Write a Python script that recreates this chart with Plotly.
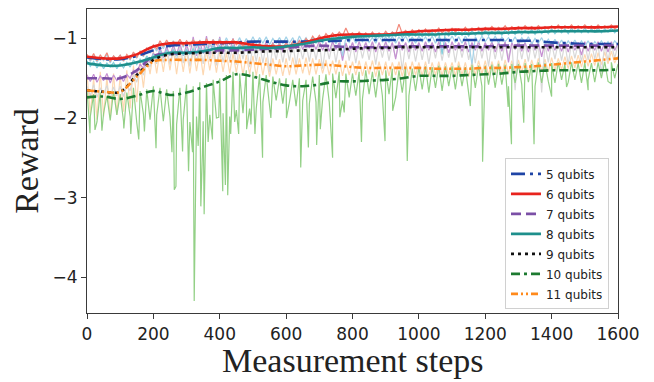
import plotly.graph_objects as go

# ---------------- data ----------------
smooth_steps = list(range(0, 1601, 50))
raw_steps = list(range(0, 1601, 10))

labels = ["5 qubits", "6 qubits", "7 qubits", "8 qubits", "9 qubits", "10 qubits", "11 qubits"]

smooth_5 = [-1.24, -1.26, -1.26, -1.22, -1.15, -1.09, -1.08, -1.07, -1.06, -1.05, -1.04, -1.04, -1.04,
            -1.04, -1.03, -1.03, -1.02, -1.02, -1.02, -1.02, -1.02, -1.02, -1.02, -1.02, -1.02, -1.02,
            -1.03, -1.03, -1.05, -1.06, -1.07, -1.07, -1.07]
smooth_6 = [-1.23, -1.25, -1.25, -1.20, -1.10, -1.06, -1.06, -1.05, -1.05, -1.05, -1.08, -1.10, -1.10,
            -1.06, -1.00, -0.96, -0.95, -0.95, -0.95, -0.93, -0.91, -0.90, -0.89, -0.89, -0.88, -0.88,
            -0.87, -0.87, -0.86, -0.86, -0.86, -0.86, -0.85]
smooth_7 = [-1.50, -1.50, -1.50, -1.40, -1.22, -1.19, -1.18, -1.16, -1.15, -1.15, -1.14, -1.13, -1.12,
            -1.10, -1.09, -1.10, -1.11, -1.11, -1.11, -1.10, -1.10, -1.10, -1.10, -1.10, -1.10, -1.09,
            -1.09, -1.09, -1.09, -1.09, -1.09, -1.09, -1.09]
smooth_8 = [-1.31, -1.34, -1.34, -1.30, -1.24, -1.18, -1.18, -1.16, -1.12, -1.12, -1.11, -1.12, -1.10,
            -1.07, -1.03, -1.00, -0.98, -0.97, -0.96, -0.95, -0.95, -0.95, -0.94, -0.94, -0.93, -0.93,
            -0.92, -0.92, -0.91, -0.91, -0.91, -0.91, -0.90]
smooth_9 = [-1.65, -1.67, -1.67, -1.46, -1.27, -1.20, -1.19, -1.18, -1.18, -1.18, -1.17, -1.16, -1.16,
            -1.15, -1.15, -1.14, -1.13, -1.12, -1.12, -1.11, -1.11, -1.11, -1.11, -1.11, -1.11, -1.11,
            -1.11, -1.11, -1.11, -1.11, -1.11, -1.11, -1.11]
smooth_10 = [-1.74, -1.73, -1.76, -1.72, -1.66, -1.71, -1.68, -1.61, -1.54, -1.45, -1.48, -1.54, -1.59,
             -1.60, -1.58, -1.54, -1.54, -1.53, -1.52, -1.50, -1.47, -1.47, -1.47, -1.46, -1.45, -1.44,
             -1.42, -1.41, -1.40, -1.40, -1.40, -1.40, -1.39]
smooth_11 = [-1.65, -1.67, -1.67, -1.48, -1.29, -1.27, -1.27, -1.27, -1.28, -1.29, -1.31, -1.33, -1.35,
             -1.34, -1.33, -1.34, -1.36, -1.37, -1.37, -1.37, -1.37, -1.38, -1.38, -1.38, -1.37, -1.37,
             -1.36, -1.35, -1.33, -1.31, -1.29, -1.27, -1.25]

raw_5 = [-1.22, -1.29, -1.21, -1.30, -1.23, -1.28, -1.20, -1.31, -1.22, -1.27,
         -1.21, -1.29, -1.22, -1.27, -1.18, -1.25, -1.16, -1.23, -1.12, -1.18,
         -1.10, -1.16, -1.06, -1.13, -1.04, -1.12, -1.03, -1.10, -1.02, -1.11,
         -1.03, -1.10, -1.01, -1.12, -1.02, -1.09, -1.00, -1.11, -1.01, -1.08,
         -1.00, -1.09, -0.99, -1.08, -1.01, -1.07, -0.99, -1.09, -1.00, -1.07,
         -0.98, -1.07, -0.99, -1.06, -0.98, -1.08, -1.00, -1.06, -0.99, -1.07,
         -0.98, -1.06, -0.99, -1.08, -0.97, -1.05, -0.99, -1.07, -0.98, -1.05,
         -0.97, -1.06, -0.98, -1.05, -0.97, -1.07, -0.98, -1.22, -0.99, -1.05,
         -0.97, -1.06, -0.98, -1.04, -0.97, -1.05, -0.99, -1.06, -0.97, -1.04,
         -0.98, -1.05, -0.97, -1.06, -0.98, -1.04, -0.97, -1.05, -0.98, -1.06,
         -0.97, -1.04, -0.98, -1.05, -0.97, -1.06, -0.98, -1.04, -0.99, -1.05,
         -0.97, -1.05, -0.98, -1.06, -0.97, -1.04, -1.33, -0.98, -1.05, -0.97,
         -1.04, -0.98, -1.05, -0.97, -1.06, -0.98, -1.04, -0.99, -1.05, -0.98,
         -1.06, -0.99, -1.05, -0.98, -1.07, -1.00, -1.06, -0.99, -1.08, -1.01,
         -1.08, -1.01, -1.09, -1.02, -1.10, -1.03, -1.09, -1.02, -1.10, -1.03,
         -1.10, -1.03, -1.11, -1.04, -1.09, -1.03, -1.10, -1.04, -1.11, -1.03,
         -1.08]
raw_6 = [-1.20, -1.27, -1.19, -1.28, -1.21, -1.26, -1.18, -1.29, -1.22, -1.26,
         -1.21, -1.28, -1.20, -1.26, -1.17, -1.24, -1.16, -1.22, -1.12, -1.16,
         -1.08, -1.13, -1.03, -1.10, -1.02, -1.09, -1.04, -1.08, -1.01, -1.09,
         -1.03, -1.08, -1.02, -1.07, -1.03, -1.09, -1.01, -1.07, -1.02, -1.08,
         -1.02, -1.08, -1.03, -1.07, -1.01, -1.08, -1.04, -1.10, -1.05, -1.11,
         -1.06, -1.12, -1.07, -1.13, -1.08, -1.12, -1.07, -1.13, -1.08, -1.12,
         -1.06, -1.11, -1.04, -1.09, -1.03, -1.08, -1.00, -1.05, -0.97, -1.03,
         -0.96, -1.02, -0.94, -0.99, -0.93, -0.98, -0.92, -0.97, -0.87, -0.96,
         -0.93, -0.98, -0.92, -0.97, -0.93, -0.98, -0.92, -0.97, -0.93, -0.97,
         -0.91, -0.96, -0.92, -0.95, -0.82, -0.94, -0.90, -0.95, -0.89, -0.94,
         -0.89, -0.93, -0.88, -0.94, -0.89, -0.92, -0.87, -0.93, -0.88, -0.92,
         -0.87, -0.92, -0.88, -0.91, -0.86, -0.91, -0.87, -0.90, -0.86, -0.91,
         -0.86, -0.90, -0.85, -0.90, -0.86, -0.89, -0.84, -0.90, -0.85, -0.89,
         -0.85, -0.89, -0.84, -0.88, -0.85, -0.89, -0.84, -0.88, -0.85, -0.88,
         -0.84, -0.88, -0.83, -0.88, -0.84, -0.87, -0.83, -0.88, -0.84, -0.87,
         -0.83, -0.87, -0.84, -0.88, -0.83, -0.87, -0.84, -0.87, -0.83, -0.88,
         -0.85]
raw_7 = [-1.46, -1.54, -1.45, -1.55, -1.47, -1.53, -1.44, -1.56, -1.46, -1.53,
         -1.47, -1.54, -1.45, -1.50, -1.40, -1.44, -1.32, -1.38, -1.25, -1.30,
         -1.18, -1.27, -1.12, -1.24, -1.10, -1.22, -1.08, -1.20, -1.06, -1.22,
         -1.08, -1.20, -0.98, -1.22, -1.04, -1.19, -0.97, -1.20, -1.03, -1.18,
         -0.98, -1.19, -1.04, -1.17, -1.00, -1.20, -1.05, -1.17, -1.03, -1.18,
         -1.04, -1.16, -1.05, -1.18, -1.03, -1.16, -1.05, -1.15, -1.04, -1.17,
         -1.03, -1.15, -1.04, -1.13, -1.02, -1.14, -1.03, -1.12, -1.04, -1.14,
         -1.03, -1.15, -1.05, -1.16, -1.04, -1.14, -1.05, -1.28, -1.06, -1.16,
         -1.05, -1.17, -1.04, -1.15, -1.05, -1.16, -1.04, -1.17, -1.05, -1.15,
         -1.04, -1.16, -1.05, -1.26, -1.04, -1.15, -1.05, -1.17, -1.04, -1.15,
         -1.05, -1.16, -1.04, -1.15, -1.05, -1.17, -1.04, -1.16, -1.05, -1.18,
         -1.04, -1.15, -1.05, -1.16, -1.04, -1.17, -1.05, -1.15, -1.04, -1.16,
         -1.05, -1.15, -1.04, -1.17, -1.05, -1.16, -1.04, -1.30, -1.05, -1.14,
         -1.04, -1.16, -1.05, -1.17, -1.04, -1.15, -1.05, -1.23, -1.04, -1.16,
         -1.05, -1.15, -1.04, -1.16, -1.05, -1.17, -1.04, -1.15, -1.05, -1.21,
         -1.04, -1.16, -1.05, -1.15, -1.04, -1.16, -1.05, -1.17, -1.04, -1.15,
         -1.06]
raw_8 = [-1.28, -1.35, -1.29, -1.37, -1.30, -1.38, -1.31, -1.36, -1.30, -1.38,
         -1.31, -1.37, -1.30, -1.36, -1.27, -1.33, -1.26, -1.31, -1.22, -1.28,
         -1.20, -1.26, -1.16, -1.22, -1.15, -1.21, -1.14, -1.22, -1.15, -1.21,
         -1.14, -1.20, -1.13, -1.19, -1.12, -1.18, -1.10, -1.16, -1.09, -1.15,
         -1.09, -1.15, -1.08, -1.16, -1.09, -1.14, -1.08, -1.15, -1.07, -1.14,
         -1.08, -1.14, -1.07, -1.15, -1.08, -1.13, -1.06, -1.14, -1.07, -1.13,
         -1.06, -1.12, -1.05, -1.11, -1.03, -1.09, -1.02, -1.07, -1.00, -1.06,
         -0.99, -1.05, -0.98, -1.03, -0.97, -1.02, -0.96, -1.01, -0.95, -1.01,
         -0.95, -1.00, -0.94, -1.01, -0.94, -0.99, -0.93, -1.00, -0.94, -0.99,
         -0.93, -0.99, -0.92, -0.98, -0.93, -0.99, -0.92, -0.98, -0.93, -0.97,
         -0.92, -0.98, -0.93, -0.97, -0.92, -0.98, -0.91, -1.20, -0.92, -0.97,
         -0.91, -0.97, -0.92, -0.96, -0.91, -0.97, -0.90, -0.96, -0.91, -0.96,
         -0.90, -0.96, -0.91, -0.95, -0.90, -0.96, -0.89, -0.95, -0.90, -0.95,
         -0.89, -0.95, -0.90, -0.94, -0.89, -0.95, -0.88, -0.94, -0.89, -0.94,
         -0.88, -0.94, -0.89, -0.93, -0.88, -0.94, -0.87, -0.93, -0.88, -0.93,
         -0.87, -0.93, -0.88, -0.92, -0.87, -0.93, -0.88, -0.92, -0.87, -0.93,
         -0.89]
raw_9 = [-1.60, -1.72, -1.58, -1.74, -1.62, -1.70, -1.59, -1.75, -1.61, -1.72,
         -1.60, -1.73, -1.58, -1.66, -1.45, -1.55, -1.38, -1.46, -1.28, -1.36,
         -1.20, -1.32, -1.12, -1.30, -1.10, -1.33, -1.11, -1.28, -1.09, -1.31,
         -1.10, -1.35, -1.09, -1.29, -1.10, -1.32, -1.08, -1.27, -1.09, -1.34,
         -1.08, -1.30, -1.09, -1.28, -1.07, -1.33, -1.08, -1.26, -1.07, -1.36,
         -1.08, -1.29, -1.06, -1.31, -1.07, -1.42, -1.08, -1.27, -1.06, -1.30,
         -1.07, -1.28, -1.06, -1.34, -1.08, -1.26, -1.07, -1.29, -1.06, -1.27,
         -1.06, -1.38, -1.07, -1.26, -1.05, -1.30, -1.06, -1.25, -1.05, -1.28,
         -1.06, -1.31, -1.05, -1.25, -1.06, -1.27, -1.05, -1.33, -1.06, -1.24,
         -1.05, -1.28, -1.06, -1.24, -1.05, -1.40, -1.06, -1.26, -1.05, -1.29,
         -1.06, -1.27, -1.05, -1.32, -1.06, -1.25, -1.05, -1.28, -1.06, -1.24,
         -1.05, -1.30, -1.06, -1.24, -1.05, -1.27, -1.06, -1.31, -1.05, -1.25,
         -1.06, -1.35, -1.05, -1.26, -1.06, -1.28, -1.05, -1.24, -1.06, -1.65,
         -1.05, -1.26, -1.06, -1.29, -1.05, -1.25, -1.06, -1.68, -1.07, -1.30,
         -1.06, -1.26, -1.05, -1.28, -1.06, -1.33, -1.05, -1.25, -1.07, -1.29,
         -1.06, -1.27, -1.05, -1.26, -1.06, -1.45, -1.07, -1.28, -1.06, -1.25,
         -1.08]
raw_10 = [-1.65, -1.98, -1.70, -2.05, -1.68, -1.94, -1.72, -2.03, -1.66, -1.96,
          -1.70, -2.04, -1.68, -1.98, -1.62, -2.06, -1.66, -1.95, -1.64, -2.02,
          -1.60, -1.96, -1.62, -2.04, -1.64, -1.98, -1.66, -2.08, -1.62, -2.02,
          -1.58, -2.05, -1.60, -1.98, -1.55, -2.04, -1.56, -1.96, -1.52, -2.00,
          -1.50, -1.94, -1.46, -1.98, -1.42, -1.90, -1.44, -1.94, -1.40, -1.88,
          -1.42, -1.88, -1.45, -1.80, -1.46, -1.85, -1.48, -1.78, -1.50, -1.82,
          -1.50, -1.80, -1.52, -1.85, -1.50, -1.78, -1.52, -1.82, -1.48, -1.80,
          -1.46, -1.76, -1.45, -1.80, -1.44, -1.75, -1.42, -1.78, -1.44, -1.74,
          -1.44, -1.72, -1.42, -1.76, -1.40, -1.70, -1.42, -1.74, -1.40, -1.72,
          -1.40, -1.70, -1.38, -1.74, -1.40, -1.68, -1.36, -1.72, -1.38, -1.66,
          -1.36, -1.64, -1.35, -1.68, -1.36, -1.62, -1.34, -1.66, -1.35, -1.60,
          -1.35, -1.64, -1.34, -1.60, -1.36, -1.66, -1.33, -1.62, -1.34, -1.60,
          -1.34, -1.58, -1.33, -1.62, -1.32, -1.58, -1.33, -1.60, -1.32, -1.56,
          -1.32, -1.58, -1.31, -1.55, -1.32, -1.60, -1.30, -1.56, -1.31, -1.54,
          -1.31, -1.56, -1.30, -1.52, -1.32, -1.55, -1.30, -1.52, -1.31, -1.56,
          -1.30, -1.52, -1.31, -1.55, -1.30, -1.50, -1.29, -1.54, -1.30, -1.50,
          -1.32]
raw_11 = [-1.45, -1.95, -1.50, -2.02, -1.42, -1.98, -1.48, -2.00, -1.44, -1.96,
          -1.46, -1.92, -1.40, -1.88, -1.34, -1.80, -1.28, -1.62, -1.22, -1.45,
          -1.16, -1.44, -1.15, -1.42, -1.14, -1.40, -1.13, -1.45, -1.14, -1.42,
          -1.15, -1.44, -1.14, -1.41, -1.16, -1.46, -1.15, -1.40, -1.16, -1.43,
          -1.17, -1.42, -1.18, -1.44, -1.19, -1.43, -1.20, -1.46, -1.21, -1.45,
          -1.22, -1.47, -1.23, -1.46, -1.24, -1.48, -1.25, -1.45, -1.26, -1.47,
          -1.25, -1.46, -1.24, -1.45, -1.25, -1.44, -1.24, -1.46, -1.25, -1.45,
          -1.26, -1.44, -1.27, -1.46, -1.28, -1.45, -1.27, -1.47, -1.28, -1.46,
          -1.29, -1.46, -1.28, -1.47, -1.29, -1.45, -1.28, -1.48, -1.29, -1.46,
          -1.29, -1.47, -1.30, -1.46, -1.29, -1.48, -1.30, -1.47, -1.29, -1.46,
          -1.30, -1.47, -1.29, -1.48, -1.30, -1.46, -1.29, -1.47, -1.30, -1.45,
          -1.30, -1.47, -1.29, -1.46, -1.30, -1.48, -1.29, -1.46, -1.28, -1.45,
          -1.28, -1.46, -1.29, -1.44, -1.28, -1.45, -1.27, -1.44, -1.28, -1.43,
          -1.27, -1.43, -1.26, -1.44, -1.27, -1.42, -1.25, -1.41, -1.26, -1.42,
          -1.24, -1.40, -1.25, -1.39, -1.23, -1.38, -1.22, -1.37, -1.21, -1.36,
          -1.20, -1.35, -1.19, -1.34, -1.18, -1.33, -1.17, -1.32, -1.16, -1.31,
          -1.22]
spike_steps_10 = [9, 24, 45, 111, 132, 156, 173, 208, 256, 263, 268, 288, 306, 318, 323, 335, 343,
                  348, 353, 365, 378, 397, 409, 417, 424, 433, 445, 457, 481, 494, 506, 529, 554,
                  601, 644, 667, 692, 703, 740, 762, 775, 827, 898, 921, 965, 1155, 1192, 1269,
                  1279, 1316, 1347, 1400, 1445, 1510, 1580]
spike_vals_10 = [-2.19, -2.15, -2.16, -2.13, -2.20, -2.27, -2.17, -2.38, -2.43, -2.90, -2.86, -2.42,
                 -2.67, -2.43, -4.30, -2.35, -3.11, -2.40, -3.21, -2.30, -2.27, -1.99, -2.92, -2.84,
                 -2.97, -2.20, -2.05, -2.20, -2.14, -2.08, -2.20, -2.50, -2.00, -2.00, -2.62, -2.37,
                 -2.34, -2.14, -2.50, -1.99, -1.93, -2.30, -2.29, -1.91, -2.54, -1.85, -2.55, -1.86,
                 -2.33, -2.06, -2.33, -1.73, -1.61, -1.65, -1.57]

x_ticks = [0, 200, 400, 600, 800, 1000, 1200, 1400, 1600]
y_ticks = [-4, -3, -2, -1]

# ---------------- styles ----------------
line_colors = ["#1f45a6", "#e8231d", "#7b4fa6", "#1e8f8c", "#111111", "#1c7a30", "#ff8a1c"]
raw_colors = ["#a3d2e8", "#f2887a", "#c590d2", "#86cfdd", "#d8d8d8", "#93d086", "#fdd8b2"]
dashes = ["14px,5px,3px,5px", "solid", "10px,5px", "solid", "3px,4px", "9px,4px,3px,4px",
          "7px,3px,2px,3px,2px,3px"]

smooth_all = [smooth_5, smooth_6, smooth_7, smooth_8, smooth_9, smooth_10, smooth_11]
raw_all = [raw_5, raw_6, raw_7, raw_8, raw_9, raw_10, raw_11]

fig = go.Figure()

# raw traces (drawn first)
order = [6, 4, 5, 2, 0, 3, 1]
for i in order:
    if i == 5:
        pts = sorted(list(zip(raw_steps, raw_10)) + list(zip(spike_steps_10, spike_vals_10)))
        xs = [p[0] for p in pts]
        ys = [p[1] for p in pts]
    else:
        xs, ys = raw_steps, raw_all[i]
    fig.add_trace(go.Scatter(x=xs, y=ys, mode="lines", showlegend=False, hoverinfo="skip",
                             line=dict(color=raw_colors[i], width=1.2)))

# smoothed traces
for i in range(7):
    fig.add_trace(go.Scatter(x=smooth_steps, y=smooth_all[i], mode="lines", name=labels[i],
                             legendgroup=labels[i],
                             line=dict(color=line_colors[i], width=2.6, dash=dashes[i], shape="spline")))

axis_common = dict(showline=True, linecolor="#3a3a3a", linewidth=1.2, mirror=True,
                   ticks="outside", ticklen=5, tickcolor="#3a3a3a", tickwidth=1.2,
                   showgrid=False, zeroline=False, automargin=False,
                   tickfont=dict(family="DejaVu Sans", size=17, color="#222"))

# the page body adds an 8px offset, so the figure is sized to the remaining window
fig.update_layout(
    width=646, height=374,
    margin=dict(l=79, r=36, t=1, b=69),
    paper_bgcolor="white", plot_bgcolor="white",
    xaxis=dict(range=[0, 1600], tickvals=x_ticks, **axis_common),
    yaxis=dict(range=[-4.45, -0.63], tickvals=y_ticks,
               title=dict(text="Reward", font=dict(family="Liberation Serif", size=34, color="#222"),
                          standoff=3),
               **axis_common),
    legend=dict(x=0.983, y=0.012, xanchor="right", yanchor="bottom",
                bgcolor="rgba(255,255,255,0.85)", bordercolor="#d0d0d0", borderwidth=1,
                font=dict(family="DejaVu Sans", size=12, color="#222"),
                tracegroupgap=1.0, itemwidth=30),
    showlegend=True,
    annotations=[dict(text="Measurement steps", xref="paper", yref="paper", x=0.5, y=-0.155,
                      xanchor="center", yanchor="middle", showarrow=False,
                      font=dict(family="Liberation Serif", size=34, color="#222"))],
)

fig.write_html("out.html")
